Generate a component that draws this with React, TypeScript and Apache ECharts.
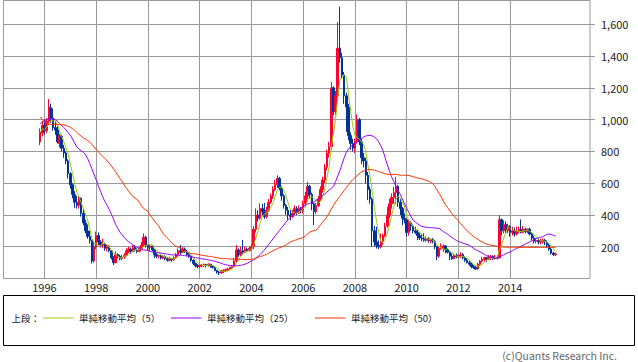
import React, { useEffect, useRef } from "react";
import * as echarts from "echarts";

// Axis spans June 1994 .. Feb 2017 (monthly categories); data starts Nov 1995
const axisStartYear = 1994;
const axisStartMonth = 6;
const axisMonthCount = 273;
const dataStartLabel = "1995-11";
const yearTickLabels = ["1996", "1998", "2000", "2002", "2004", "2006", "2008", "2010", "2012", "2014"];
const yTickValues = [200, 400, 600, 800, 1000, 1200, 1400, 1600];

// Monthly candles [open, close, low, high], Nov 1995 .. Oct 2015
const ohlc: number[][] = [
  [860, 920, 840, 945], [915, 965, 895, 990],
  // 1996
  [965, 930, 905, 1000], [930, 990, 915, 1010], [990, 1080, 965, 1130], [1075, 1010, 980, 1100],
  [1010, 950, 930, 1070], [950, 935, 905, 990], [935, 860, 850, 960], [850, 900, 825, 910],
  [895, 820, 800, 905], [820, 790, 760, 840], [790, 740, 720, 800], [740, 660, 630, 750],
  // 1997
  [660, 590, 565, 670], [590, 530, 505, 600], [530, 480, 445, 550], [480, 460, 440, 520],
  [460, 510, 440, 525], [505, 410, 390, 510], [410, 350, 335, 440], [350, 300, 285, 370],
  [300, 265, 250, 340], [265, 240, 220, 300], [240, 110, 95, 245], [110, 200, 100, 235],
  // 1998
  [200, 270, 185, 295], [270, 230, 210, 290], [230, 210, 195, 240], [210, 215, 190, 250],
  [215, 190, 175, 225], [190, 200, 170, 215], [200, 175, 165, 210], [175, 130, 120, 180],
  [130, 100, 85, 140], [100, 150, 95, 170], [150, 140, 125, 160], [140, 125, 115, 150],
  // 1999
  [125, 135, 115, 150], [135, 145, 125, 160], [145, 175, 140, 190], [175, 185, 160, 200],
  [185, 170, 155, 195], [170, 195, 165, 210], [195, 180, 170, 210], [180, 170, 160, 190],
  [170, 190, 165, 200], [190, 210, 180, 230], [210, 260, 200, 284], [260, 210, 195, 270],
  // 2000
  [210, 195, 180, 215], [195, 205, 175, 211], [205, 180, 170, 210], [180, 150, 130, 185],
  [150, 140, 127, 160], [140, 145, 125, 150], [145, 130, 120, 150], [130, 140, 120, 148],
  [140, 125, 115, 145], [125, 115, 106, 135], [115, 125, 108, 137], [125, 118, 106, 130],
  // 2001
  [118, 130, 110, 140], [130, 150, 125, 160], [150, 175, 140, 190], [175, 165, 150, 211],
  [165, 185, 160, 200], [185, 170, 160, 195], [170, 150, 140, 180], [150, 140, 130, 160],
  [140, 115, 105, 145], [115, 95, 85, 120], [95, 80, 70, 100], [80, 75, 64, 90],
  // 2002
  [75, 85, 65, 92], [85, 80, 70, 90], [80, 88, 72, 95], [88, 82, 70, 92],
  [82, 90, 75, 95], [90, 80, 68, 92], [80, 70, 62, 85], [70, 50, 45, 75],
  [50, 40, 30, 55], [40, 35, 22, 48], [35, 45, 28, 55], [45, 50, 35, 58],
  // 2003
  [50, 55, 40, 62], [55, 60, 45, 68], [60, 70, 50, 75], [70, 75, 60, 85],
  [75, 110, 70, 130], [110, 180, 100, 211], [180, 150, 137, 190], [150, 175, 140, 200],
  [175, 165, 150, 242], [165, 185, 160, 200], [185, 175, 165, 195], [175, 190, 170, 200],
  // 2004
  [190, 200, 175, 215], [200, 310, 185, 330], [310, 400, 290, 441], [400, 380, 360, 430],
  [380, 440, 370, 473], [440, 420, 400, 470], [420, 390, 375, 475], [390, 430, 378, 450],
  [430, 480, 420, 500], [480, 520, 470, 535], [520, 560, 500, 580], [560, 590, 550, 620],
  // 2005
  [590, 630, 570, 650], [630, 570, 555, 640], [570, 520, 490, 580], [520, 460, 440, 530],
  [460, 430, 400, 470], [430, 400, 370, 450], [400, 390, 367, 430], [390, 410, 380, 430],
  [410, 440, 400, 460], [440, 415, 400, 455], [415, 440, 405, 460], [440, 430, 410, 450],
  // 2006
  [430, 470, 410, 490], [470, 520, 450, 545], [520, 580, 500, 608], [580, 530, 500, 590],
  [530, 470, 430, 540], [470, 420, 336, 480], [420, 460, 405, 475], [460, 500, 450, 520],
  [500, 560, 490, 580], [560, 620, 540, 640], [620, 700, 600, 720], [700, 790, 680, 810],
  // 2007
  [790, 830, 760, 860], [830, 1200, 810, 1237], [1200, 1050, 1030, 1210], [1050, 1150, 1030, 1180],
  [1150, 1450, 1140, 1614], [1450, 1390, 1360, 1712], [1390, 1280, 1260, 1420], [1280, 1150, 1100, 1300],
  [1150, 1080, 923, 1170], [1080, 900, 870, 1100], [900, 850, 810, 920], [850, 820, 800, 880],
  // 2008
  [820, 860, 790, 880], [860, 1000, 849, 1033], [1000, 860, 840, 1010], [860, 760, 720, 880],
  [760, 740, 700, 790], [740, 650, 598, 760], [650, 560, 493, 670], [560, 500, 472, 580],
  [500, 300, 200, 510], [300, 230, 200, 330], [230, 210, 189, 325], [210, 200, 185, 240],
  // 2009
  [200, 230, 189, 283], [230, 270, 210, 283], [270, 330, 260, 350], [330, 400, 320, 451],
  [400, 470, 380, 500], [470, 510, 440, 535], [510, 540, 470, 577], [540, 580, 470, 640],
  [580, 480, 451, 590], [480, 440, 400, 500], [440, 380, 335, 450], [380, 370, 347, 409],
  // 2010
  [370, 290, 263, 375], [290, 350, 270, 367], [350, 330, 300, 360], [330, 300, 284, 340],
  [300, 290, 280, 326], [290, 270, 242, 305], [270, 255, 242, 290], [255, 250, 235, 280],
  [250, 240, 231, 284], [240, 250, 231, 265], [250, 240, 225, 260], [240, 245, 221, 252],
  // 2011
  [245, 235, 221, 255], [235, 200, 185, 240], [200, 140, 116, 205], [140, 190, 130, 200],
  [190, 195, 180, 221], [185, 205, 168, 215], [205, 180, 158, 210], [180, 165, 158, 190],
  [165, 140, 116, 170], [140, 125, 116, 158], [125, 145, 120, 158], [145, 135, 127, 158],
  // 2012
  [135, 140, 127, 150], [140, 150, 130, 165], [150, 130, 120, 160], [130, 115, 105, 140],
  [115, 100, 95, 130], [100, 90, 80, 110], [90, 75, 64, 100], [75, 70, 60, 85],
  [70, 60, 53, 80], [60, 90, 55, 100], [90, 110, 80, 116], [110, 120, 100, 137],
  // 2013
  [120, 130, 106, 137], [130, 120, 106, 137], [120, 135, 115, 148], [135, 140, 116, 148],
  [140, 125, 116, 145], [125, 135, 120, 148], [135, 130, 120, 145], [130, 370, 127, 399],
  [370, 300, 273, 378], [300, 340, 284, 367], [340, 300, 284, 360], [300, 330, 285, 345],
  // 2014
  [330, 290, 263, 335], [290, 300, 270, 326], [300, 280, 263, 320], [280, 300, 270, 326],
  [300, 310, 284, 326], [310, 290, 284, 372], [290, 310, 284, 330], [310, 295, 284, 320],
  [295, 310, 284, 315], [310, 280, 270, 320], [280, 255, 240, 290], [255, 235, 221, 270],
  // 2015
  [235, 240, 221, 255], [240, 230, 215, 252], [230, 235, 215, 250], [235, 240, 220, 252],
  [240, 230, 210, 250], [230, 210, 195, 240], [210, 185, 175, 221], [185, 160, 150, 195],
  [160, 150, 141, 168], [150, 155, 141, 162],
];

// 25-period simple moving average as drawn (Nov 1995 .. Oct 2015)
const ma25: number[] = [
  975, 985,
  993, 1000, 1005, 1007, 1006, 1000, 990, 975, 965, 950, 935, 918,
  902, 878, 852, 828, 815, 805, 795, 780, 755, 725, 690, 655,
  620, 582, 548, 515, 485, 462, 435, 405, 375, 340, 315, 292,
  275, 258, 243, 232, 222, 210, 202, 196, 190, 184, 180, 178,
  175, 170, 167, 165, 163, 162, 160, 157, 155, 153, 151, 149,
  148, 148, 147, 147, 146, 144, 142, 140, 137, 134, 131, 129,
  127, 124, 122, 120, 118, 115, 112, 108, 104, 100, 95, 90,
  87, 84, 82, 81, 80, 80, 81, 83, 86, 90, 96, 102,
  110, 118, 128, 138, 150, 165, 180, 198, 215, 232, 250, 268,
  285, 302, 320, 337, 355, 370, 385, 397, 410, 422, 435, 445,
  453, 462, 468, 473, 478, 483, 493, 503, 513, 522, 532, 545,
  556, 568, 580, 610, 645, 680, 720, 760, 795, 815, 830, 842,
  852, 860, 870, 880, 890, 897, 900, 902, 898, 890, 880, 860,
  835, 805, 760, 715, 675, 640, 610, 580, 555, 530, 500, 470,
  441, 415, 390, 367, 355, 345, 336, 328, 325, 323, 321, 320,
  320, 318, 317, 315, 305, 295, 287, 278, 268, 258, 248, 240,
  233, 228, 223, 218, 214, 210, 200, 190, 182, 174, 168, 160,
  152, 145, 139, 134, 130, 127, 128, 133, 142, 150, 157, 163,
  168, 175, 182, 189, 196, 203, 210, 217, 224, 231, 238, 245,
  252, 256, 260, 263, 270, 278, 280, 276, 272, 267,
];

// 50-period simple moving average as drawn (Nov 1995 .. Oct 2015)
const ma50: number[] = [
  1017, 1000,
  985, 978, 972, 970, 970, 969, 969, 968, 968, 967, 964, 958,
  952, 944, 933, 920, 907, 896, 886, 877, 868, 858, 845, 828,
  812, 798, 783, 769, 755, 741, 727, 708, 690, 671, 650, 630,
  610, 588, 568, 550, 532, 516, 507, 497, 478, 458, 440, 432,
  420, 400, 380, 362, 345, 330, 305, 285, 268, 254, 240, 225,
  212, 202, 198, 192, 183, 175, 168, 160, 157, 156, 155, 153,
  150, 146, 144, 142, 140, 138, 136, 133, 131, 128, 127, 126,
  125, 124, 123, 122, 122, 121, 121, 120, 120, 119, 119, 120,
  121, 124, 128, 133, 138, 142, 147, 152, 160, 168, 175, 181,
  188, 194, 199, 204, 210, 220, 229, 235, 240, 245, 250, 254,
  258, 268, 280, 292, 297, 301, 305, 320, 338, 355, 372, 388,
  412, 436, 460, 482, 500, 518, 536, 555, 572, 590, 607, 622,
  635, 648, 660, 670, 677, 682, 685, 686, 685, 682, 678, 673,
  668, 663, 659, 656, 655, 654, 655, 656, 653, 650, 650, 650,
  650, 648, 645, 641, 637, 633, 630, 627, 623, 619, 613, 606,
  598, 580, 558, 537, 513, 488, 464, 445, 427, 408, 390, 378,
  362, 346, 330, 315, 300, 288, 276, 264, 254, 246, 238, 230,
  222, 217, 213, 210, 207, 205, 202, 200, 198, 198, 197, 197,
  197, 197, 197, 196, 196, 196, 196, 196, 196, 196, 196, 196,
  196, 196, 196, 196, 196, 196, 196, 196, 196, 196,
];

const legendPrefix = "上段：";
const legendItems = [
  { name: "単純移動平均（5）", color: "#99cc00" },
  { name: "単純移動平均（25）", color: "#9900ff" },
  { name: "単純移動平均（50）", color: "#ff3300" },
];
const copyright = "(c)Quants Research Inc.";

const FONT = "'Noto Sans CJK JP', 'Noto Sans', sans-serif";

function buildCategories(): string[] {
  const out: string[] = [];
  for (let i = 0; i < axisMonthCount; i++) {
    const t = axisStartYear * 12 + (axisStartMonth - 1) + i;
    const y = Math.floor(t / 12);
    const m = (t % 12) + 1;
    out.push(`${y}-${m < 10 ? "0" + m : m}`);
  }
  return out;
}

export default function App() {
  const ref = useRef<HTMLDivElement>(null);

  useEffect(() => {
    if (!ref.current) return;
    const chart = echarts.init(ref.current, undefined, { renderer: "svg" });

    const categories = buildCategories();
    const offset = categories.indexOf(dataStartLabel);
    const pad = (arr: any[]) => {
      const out: any[] = [];
      for (let i = 0; i < categories.length; i++) {
        const k = i - offset;
        out.push(k >= 0 && k < arr.length ? arr[k] : "-");
      }
      return out;
    };

    const closes = ohlc.map((d) => d[1]);
    const ma5 = closes.map((_, i) => {
      const from = Math.max(0, i - 4);
      const win = closes.slice(from, i + 1);
      return Math.round((win.reduce((a, b) => a + b, 0) / win.length) * 10) / 10;
    });

    const isYearTick = (_: number, v: string) =>
      v.slice(5) === "01" && yearTickLabels.indexOf(v.slice(0, 4)) >= 0;

    const lineSeries = (name: string, data: number[], color: string) => ({
      name,
      type: "line",
      data: pad(data),
      symbol: "none",
      showSymbol: false,
      lineStyle: { color, width: 1 },
      itemStyle: { color },
      z: 3,
    });

    const legendGraphics: any[] = [
      {
        type: "rect",
        shape: { x: 3.5, y: 295.5, width: 631, height: 50 },
        style: { fill: "#ffffff", stroke: "#000000", lineWidth: 1 },
      },
      {
        type: "text",
        x: 11.5,
        y: 318,
        style: { text: legendPrefix, fontSize: 9.5, fontFamily: FONT, fill: "#222", verticalAlign: "middle" },
      },
    ];
    const lineStarts = [43, 171, 315];
    legendItems.forEach((it, i) => {
      const x0 = lineStarts[i];
      legendGraphics.push({
        type: "rect",
        shape: { x: x0, y: 317.5, width: 30.5, height: 1 },
        style: { fill: it.color },
      });
      legendGraphics.push({
        type: "text",
        x: x0 + 36,
        y: 318,
        style: { text: it.name, fontSize: 9.5, fontFamily: FONT, fill: "#222", verticalAlign: "middle" },
      });
    });
    legendGraphics.push({
      type: "text",
      x: 617,
      y: 355.5,
      style: {
        text: copyright,
        fontSize: 10.5,
        fontFamily: FONT,
        fill: "#666",
        align: "right",
        verticalAlign: "middle",
      },
    });

    chart.setOption({
      animation: false,
      backgroundColor: "#ffffff",
      grid: {
        left: 3.5,
        right: 48,
        top: 0.5,
        height: 278,
        show: true,
        borderColor: "#999999",
        borderWidth: 1,
        backgroundColor: "transparent",
      },
      xAxis: {
        type: "category",
        data: categories,
        boundaryGap: false,
        axisLine: { show: false },
        axisTick: { show: false },
        axisLabel: {
          interval: isYearTick,
          formatter: (v: string) => v.slice(0, 4),
          margin: 3,
          color: "#222",
          fontSize: 11,
          fontFamily: FONT,
        },
        splitLine: { show: true, interval: isYearTick, lineStyle: { color: "#999999", width: 1 } },
      },
      yAxis: {
        type: "value",
        position: "right",
        min: 0,
        max: 1750,
        interval: 200,
        axisLine: { show: false },
        axisTick: { show: true, length: 5, lineStyle: { color: "#999999" }, customValues: yTickValues },
        axisLabel: {
          customValues: yTickValues,
          margin: 11,
          color: "#222",
          fontSize: 11,
          fontFamily: FONT,
          formatter: (v: number) => v.toLocaleString("en-US"),
        },
        splitLine: { show: true, lineStyle: { color: "#999999", width: 1 } },
      },
      series: [
        {
          name: "price",
          type: "candlestick",
          data: pad(ohlc),
          barWidth: 2,
          itemStyle: {
            color: "#ff0033",
            color0: "#003399",
            borderColor: "#ff0033",
            borderColor0: "#003399",
            borderWidth: 1,
          },
          z: 2,
        },
        lineSeries(legendItems[0].name, ma5, legendItems[0].color),
        lineSeries(legendItems[1].name, ma25, legendItems[1].color),
        lineSeries(legendItems[2].name, ma50, legendItems[2].color),
      ],
      graphic: legendGraphics,
    });

    return () => chart.dispose();
  }, []);

  return (
    <div
      ref={ref}
      style={{ position: "fixed", left: 0, top: 0, width: 638, height: 362, background: "#fff" }}
    />
  );
}
